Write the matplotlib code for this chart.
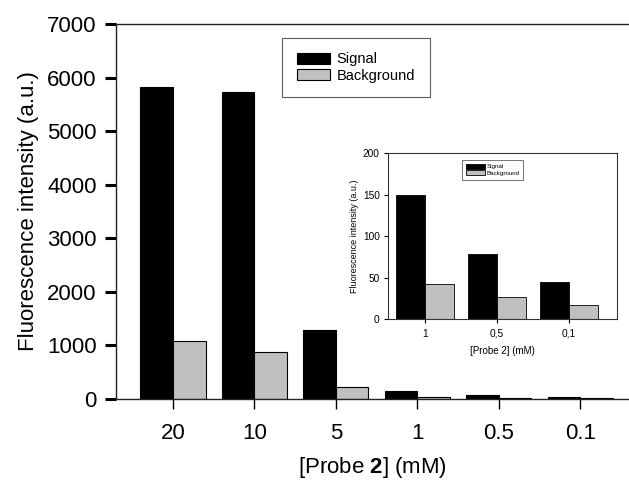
import numpy as np
import matplotlib.pyplot as plt

plt.rcParams['font.family'] = ['Liberation Sans', 'DejaVu Sans']
plt.rcParams['mathtext.fontset'] = 'custom'
plt.rcParams['mathtext.rm'] = 'Liberation Sans'
plt.rcParams['mathtext.bf'] = 'Liberation Sans:bold'

# main chart data
konsentrasi = ['20', '10', '5', '1', '0.5', '0.1']
signal = [5830, 5740, 1280, 150, 78, 44]
background = [1090, 880, 230, 42, 27, 17]

# inset data
konsentrasi_inset = ['1', '0,5', '0,1']
signal_inset = [150, 78, 44]
background_inset = [42, 27, 17]

warna_bg = '#c0c0c0'
lebar = 0.4

fig = plt.figure(figsize=(6.29, 4.83), dpi=100)

ax = fig.add_axes([0.1844, 0.1739, 0.8156, 0.7764])
x = np.arange(len(konsentrasi))
ax.bar(x - lebar / 2, signal, lebar, color='black', edgecolor='black', linewidth=0.8, label='Signal')
ax.bar(x + lebar / 2, background, lebar, color=warna_bg, edgecolor='black', linewidth=0.8, label='Background')
ax.set_xlim(-0.7, 5.6)
ax.set_ylim(0, 7000)
ax.set_yticks(range(0, 7001, 1000))
ax.set_xticks(x)
ax.set_xticklabels(konsentrasi)
ax.spines['right'].set_visible(False)
for s in ax.spines.values():
    s.set_linewidth(1.0)
    s.set_color('#222222')
ax.tick_params(axis='y', direction='out', length=8, width=2.2, pad=6, labelsize=16)
ax.tick_params(axis='x', direction='out', length=7, width=1, pad=10, labelsize=16)
ax.set_ylabel('Fluorescence intensity (a.u.)', fontsize=16, labelpad=6)
ax.set_xlabel('[Probe $\\mathbf{2}$] (mM)', fontsize=16, labelpad=8)
leg = ax.legend(loc='upper left', bbox_to_anchor=(0.3236, 0.963), borderaxespad=0,
                fontsize=10.5, frameon=True, fancybox=False, edgecolor='#333333',
                handlelength=2.3, handleheight=0.8, handletextpad=0.45,
                borderpad=1.0, labelspacing=0.15)
leg.get_frame().set_linewidth(0.8)

# inset
ins = fig.add_axes([0.6169, 0.3395, 0.3641, 0.3437])
xi = np.arange(len(konsentrasi_inset))
ins.bar(xi - lebar / 2, signal_inset, lebar, color='black', edgecolor='black', linewidth=0.6, label='Signal')
ins.bar(xi + lebar / 2, background_inset, lebar, color=warna_bg, edgecolor='black', linewidth=0.6, label='Background')
ins.set_xlim(-0.51, 2.67)
ins.set_ylim(0, 200)
ins.set_yticks(range(0, 201, 50))
ins.set_xticks(xi)
ins.set_xticklabels(konsentrasi_inset)
for s in ins.spines.values():
    s.set_linewidth(0.8)
    s.set_color('#333333')
ins.tick_params(axis='both', direction='out', length=3, width=0.8, labelsize=7.3, pad=3)
ins.tick_params(axis='x', pad=4)
ins.set_ylabel('Fluorescence intensity (a.u.)', fontsize=6.5, labelpad=3)
ins.set_xlabel('[Probe 2] (mM)', fontsize=7, labelpad=5)
leg2 = ins.legend(loc='upper left', bbox_to_anchor=(0.323, 0.958), borderaxespad=0,
                  fontsize=4.5, frameon=True, fancybox=False, edgecolor='#333333',
                  handlelength=3.0, handleheight=0.9, handletextpad=0.3,
                  borderpad=0.6, labelspacing=0.1)
leg2.get_frame().set_linewidth(0.6)

fig.savefig('out.png', dpi=100)
